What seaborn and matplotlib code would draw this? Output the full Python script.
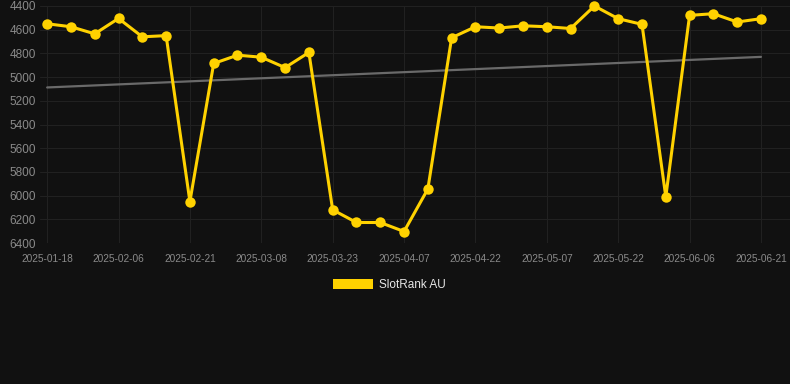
import numpy as np
import pandas as pd
import seaborn as sns
import matplotlib
matplotlib.use("Agg")
import matplotlib.pyplot as plt
from matplotlib.patches import Patch

dates = ["2025-01-18", "2025-01-27", "2025-02-01", "2025-02-06", "2025-02-11", "2025-02-16",
         "2025-02-21", "2025-02-26", "2025-03-03", "2025-03-08", "2025-03-13", "2025-03-18",
         "2025-03-23", "2025-03-28", "2025-04-02", "2025-04-07", "2025-04-12", "2025-04-17",
         "2025-04-22", "2025-04-27", "2025-05-02", "2025-05-07", "2025-05-12", "2025-05-17",
         "2025-05-22", "2025-05-27", "2025-06-01", "2025-06-06", "2025-06-11", "2025-06-16",
         "2025-06-21"]
ranks = [4550, 4575, 4635, 4505, 4660, 4650,
         6050, 4885, 4815, 4832, 4920, 4792,
         6120, 6227, 6227, 6303, 5944, 4668,
         4575, 4586, 4567, 4575, 4590, 4400,
         4507, 4555, 6010, 4479, 4465, 4535,
         4507]
series_name = "SlotRank AU"

BG = "#111111"
GOLD = "#FFD200"

sns.set_theme(style="dark")
plt.rcParams["font.family"] = ["Liberation Sans", "DejaVu Sans"]

df = pd.DataFrame({"idx": np.arange(len(dates)), "date": dates, "rank": ranks})

fig = plt.figure(figsize=(7.9, 3.84), dpi=100, facecolor=BG)
ax = fig.add_axes([40 / 790, 1 - 243 / 384, 750 / 790, 237 / 384])
ax.set_facecolor(BG)

# trend line
coef = np.polyfit(df["idx"], df["rank"], 1)
trend = np.polyval(coef, df["idx"])
sns.lineplot(x=df["idx"], y=trend, ax=ax, color="#6a6a6a", linewidth=1.6, zorder=2)

sns.lineplot(data=df, x="idx", y="rank", ax=ax, color=GOLD, linewidth=2.2,
             marker="o", markersize=7.5, markeredgewidth=0, zorder=3)
for ln in ax.get_lines():
    ln.set_clip_on(False)

ax.set_ylim(6400, 4400)
ax.set_xlim(-0.3, 31.22)
ax.set_yticks(np.arange(4400, 6401, 200))
ticks = df["idx"][::3]
ax.set_xticks(ticks)
ax.set_xticklabels([dates[i] for i in ticks])
ax.grid(True, color="#212121", linewidth=0.8)
for s in ax.spines.values():
    s.set_visible(False)
ax.tick_params(axis="y", colors="#8a8a8a", labelsize=8.5, length=0, pad=3)
ax.tick_params(axis="x", colors="#8a8a8a", labelsize=7.3, length=0, pad=8)
ax.set_xlabel("")
ax.set_ylabel("")

leg = fig.legend(handles=[Patch(facecolor=GOLD, edgecolor="none", label=series_name)],
                 loc="center", bbox_to_anchor=(389 / 790, 1 - 285 / 384),
                 frameon=False, handlelength=3.4, handleheight=1.0, fontsize=8.5,
                 handletextpad=0.5)
for t in leg.get_texts():
    t.set_color("#e6e6e6")

fig.savefig("out.png", dpi=100, facecolor=BG)
